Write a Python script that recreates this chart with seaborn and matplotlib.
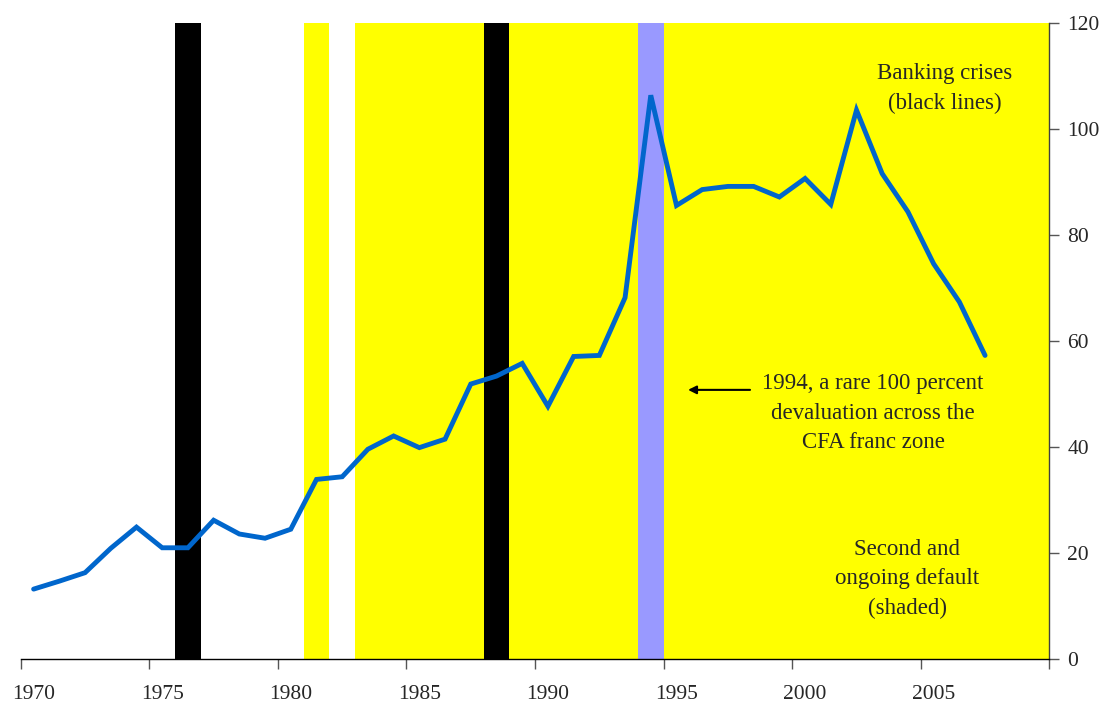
import numpy as np
import pandas as pd
import matplotlib
matplotlib.use('Agg')
import matplotlib.pyplot as plt
import seaborn as sns

# series (one value per year, drawn mid-year)
years = np.arange(1970, 2008)
values = [13.1, 14.6, 16.2, 20.8, 24.8, 20.9, 20.9, 26.1, 23.5, 22.7,
          24.4, 33.8, 34.3, 39.5, 42.0, 39.8, 41.4, 51.8, 53.3, 55.7,
          47.6, 57.0, 57.2, 68.1, 106.3, 85.5, 88.5, 89.1, 89.1, 87.1,
          90.6, 85.7, 103.5, 91.5, 84.3, 74.5, 67.3, 57.2]

# shaded periods
default_spans = [(1981, 1982), (1983, 2010)]
banking_crisis_years = [1976, 1988]
devaluation_years = [1994]

tick_years = list(range(1970, 2011, 5))
label_years = list(range(1970, 2006, 5))
y_ticks = list(range(0, 121, 20))

df = pd.DataFrame({'year': years + 0.5, 'value': values})

sns.set_style('white')
plt.rcParams['font.family'] = ['Liberation Serif', 'DejaVu Serif']

fig = plt.figure(figsize=(11.04, 7.04), dpi=100)
ax = fig.add_axes([0.0188, 0.0646, 0.9317, 0.9032])

# shading
for start, end in default_spans:
    ax.axvspan(start, end, color='#FFFF00', lw=0, zorder=0)
for yr in banking_crisis_years:
    ax.axvspan(yr, yr + 1, color='black', lw=0, zorder=1)
for yr in devaluation_years:
    ax.axvspan(yr, yr + 1, color='#9999FF', lw=0, zorder=1)

sns.lineplot(data=df, x='year', y='value', ax=ax, color='#0066CC',
             linewidth=3.5, solid_capstyle='round', solid_joinstyle='miter',
             zorder=3)

ax.set_xlim(1970, 2010)
ax.set_ylim(0, 120)

# x axis: ticks at category edges, labels centred in the category
ax.set_xticks(tick_years)
ax.set_xticklabels([])
ax.set_xticks([y + 0.5 for y in label_years], minor=True)
ax.set_xticklabels([str(y) for y in label_years], minor=True, fontsize=15.5)
ax.tick_params(axis='x', which='major', direction='out', length=7, width=1,
               color='#555555', bottom=True)
ax.tick_params(axis='x', which='minor', length=0, pad=19)

# y axis on the right
ax.yaxis.tick_right()
ax.set_yticks(y_ticks)
ax.set_yticklabels([str(v) for v in y_ticks], fontsize=15.5)
ax.tick_params(axis='y', direction='out', length=7, width=1, color='#555555',
               right=True, left=False, pad=6)

ax.set_xlabel('')
ax.set_ylabel('')

for side in ['top', 'left']:
    ax.spines[side].set_visible(False)
ax.spines['bottom'].set_color('black')
ax.spines['bottom'].set_linewidth(1)
ax.spines['right'].set_color('#404040')
ax.spines['right'].set_linewidth(1)

# annotations
ax.text(2005.94, 107.6, 'Banking crises\n(black lines)', ha='center',
        va='center', fontsize=16.5, linespacing=1.55, zorder=4)
ax.text(2003.14, 46.3, '1994, a rare 100 percent\ndevaluation across the\nCFA franc zone',
        ha='center', va='center', fontsize=16.5, linespacing=1.55, zorder=4)
ax.annotate('', xy=(1995.95, 50.7), xytext=(1998.36, 50.7),
            arrowprops=dict(arrowstyle='-|>', color='black', lw=1.5,
                            mutation_scale=12, shrinkA=0, shrinkB=0),
            zorder=4)
ax.text(2004.47, 15.0, 'Second and\nongoing default\n(shaded)', ha='center',
        va='center', fontsize=16.5, linespacing=1.55, zorder=4)

fig.savefig('out.png', dpi=100)
